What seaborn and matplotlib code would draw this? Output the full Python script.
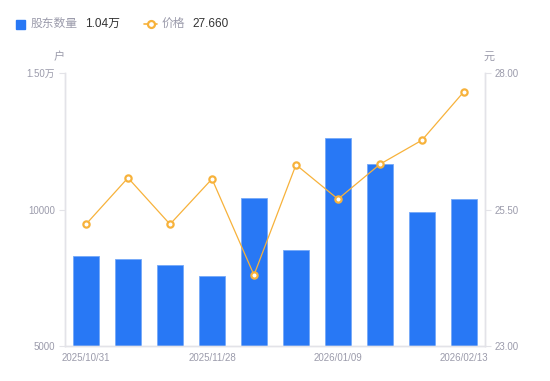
import numpy as np
import pandas as pd
import matplotlib.pyplot as plt
import seaborn as sns
from matplotlib.patches import Rectangle
from matplotlib.lines import Line2D

# 数据
dates = ["2025/10/31", "2025/11/07", "2025/11/14", "2025/11/28", "2025/12/10",
         "2025/12/19", "2026/01/09", "2026/01/16", "2026/01/30", "2026/02/13"]
holders = [8308, 8187, 7956, 7564, 10410, 8505, 12608, 11678, 9919, 10374]
price = [25.23, 26.08, 25.23, 26.06, 24.30, 26.32, 25.69, 26.33, 26.77, 27.66]
left_ticks = [5000, 10000, 15000]
left_labels = ["5000", "10000", "1.50万"]
right_ticks = [23.0, 25.5, 28.0]
right_labels = ["23.00", "25.50", "28.00"]
shown_dates = [0, 3, 6, 9]

blue = "#2878f5"
orange = "#f7b23b"
gray = "#9b9bab"
axis_gray = "#e3e3e8"

sns.set_style("white")
plt.rcParams['font.family'] = ['Liberation Sans', 'Noto Sans CJK SC', 'DejaVu Sans']

df = pd.DataFrame({"date": dates, "holders": holders, "price": price})

W, H = 550, 381
fig = plt.figure(figsize=(W / 100, H / 100), dpi=100)
ax = fig.add_axes([65 / W, 1 - 346 / H, 420 / W, 273 / H])

sns.barplot(data=df, x="date", y="holders", ax=ax, color=blue, width=0.6,
            saturation=1, edgecolor="#74a8f8", linewidth=0.6)
ax.set_ylim(5000, 15000)
ax.set_yticks(left_ticks)
ax.set_yticklabels(left_labels)

ax2 = ax.twinx()
sns.pointplot(data=df, x="date", y="price", ax=ax2, color=orange,
              markers="o", markersize=4.5, linewidth=0.9,
              markerfacecolor="white", markeredgewidth=1.6)
ax2.set_ylim(23, 28)
ax2.set_yticks(right_ticks)
ax2.set_yticklabels(right_labels)
ax.set_xlim(-0.5, len(dates) - 0.5)

ax.set_xticks(shown_dates)
ax.set_xticklabels([dates[i] for i in shown_dates])

for a in (ax, ax2):
    a.set_xlabel("")
    a.set_ylabel("")
    for s in a.spines.values():
        s.set_color(axis_gray)
        s.set_linewidth(1)
    a.spines["top"].set_visible(False)
    a.tick_params(colors=gray, labelsize=7, length=4, width=0.8, color=axis_gray, pad=3)
ax.tick_params(axis="x", length=0, pad=5)

# 单位
fig.text(59 / W, 1 - 57 / H, "户", color=gray, fontsize=8, ha="center", va="center")
fig.text(489 / W, 1 - 57 / H, "元", color=gray, fontsize=8, ha="center", va="center")

# 图例
fig.add_artist(Rectangle((16 / W, 1 - 29 / H), 9 / W, 9 / H, color=blue,
                         transform=fig.transFigure))
fig.text(31 / W, 1 - 24 / H, "股东数量", color=gray, fontsize=8.5, va="center")
fig.text(85 / W, 1 - 24 / H, "1.04万", color="#333333", fontsize=8.5, va="center")
fig.add_artist(Line2D([144 / W, 157 / W], [1 - 24 / H, 1 - 24 / H], color=orange, lw=1.2,
                      transform=fig.transFigure))
fig.add_artist(Line2D([150.5 / W], [1 - 24 / H], marker="o", markersize=5, color=orange,
                      markerfacecolor="white", markeredgewidth=1.6, transform=fig.transFigure))
fig.text(162 / W, 1 - 24 / H, "价格", color=gray, fontsize=8.5, va="center")
fig.text(192 / W, 1 - 24 / H, "27.660", color="#333333", fontsize=8.5, va="center")

fig.savefig("out.png", dpi=100)
